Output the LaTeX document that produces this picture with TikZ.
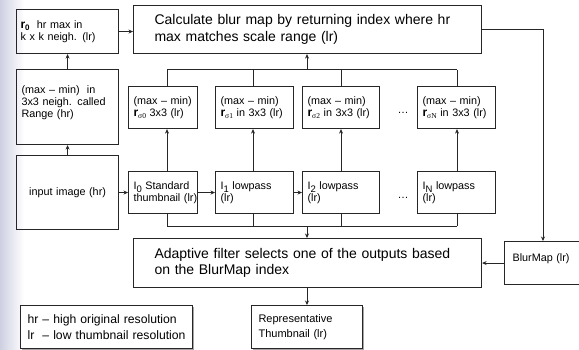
\documentclass[tikz,border=0pt]{standalone}
\usepackage{fontspec}
\setmainfont{Liberation Sans}
\newfontfamily\greekserif{Liberation Serif}
\usetikzlibrary{arrows.meta,shadows}

% bold r with a sigma subscript, and an image symbol with a subscript
\newcommand\rsig[1]{{\fontsize{12}{12}\selectfont\bfseries r}\raisebox{-2.5pt}{\fontsize{7.5}{7.5}\greekserif σ#1}}
\newcommand\imgsub[1]{I\raisebox{-3pt}{\fontsize{9.5}{9.5}\selectfont #1}}

\tikzset{
  x=1pt, y=-1pt,
  box/.style={draw=black!85, line width=1.1pt, anchor=north west, inner xsep=5pt,
    inner ysep=0pt, align=left, font=\fontsize{10.8}{12}\selectfont},
  bigbox/.style={box, inner xsep=21pt, font=\fontsize{14}{16.5}\selectfont},
  notebox/.style={box, fill=white, drop shadow={shadow xshift=1pt, shadow yshift=-1.5pt, fill=black!35, opacity=1}},
  link/.style={line width=1pt, draw=black!85},
  arr/.style={link, -{Stealth[length=4.5pt,width=4pt]}},
  dotsnode/.style={anchor=base, inner sep=0pt, font=\fontsize{11}{11}\selectfont},
}

\begin{document}
\begin{tikzpicture}
\useasboundingbox (0,0) rectangle (579,350);
% faint slide tint along the left edge
\shade[left color={rgb,255:red,206;green,208;blue,226}, right color=white] (0,0) rectangle (24,350);

% left column
\node[box, inner xsep=4pt, text width=94pt, minimum height=44pt] (r0) at (16,9)
  {{\fontsize{12}{12}\selectfont\bfseries r}\raisebox{-2pt}{\fontsize{8}{8}\selectfont\bfseries 0}\ \ hr max in\\k x k neigh. (lr)};
\node[box, text width=92pt, minimum height=75pt] (range) at (16,69)
  {(max – min)\ \ in\\3x3 neigh. called\\Range (hr)\\[-1pt]\mbox{}};
\node[box, align=center, text width=92pt, minimum height=74pt] (input) at (16,155)
  {input image (hr)};

% wide processing boxes
\node[bigbox, text width=306pt, minimum height=48pt] (calc) at (133,5)
  {\mbox{Calculate blur map by returning index where hr}\\max matches scale range (lr)};
\node[bigbox, text width=306pt, minimum height=49pt] (adapt) at (133,238)
  {\mbox{Adaptive filter selects one of the outputs based}\\on the BlurMap index};

% range maps per scale
\node[box, text width=59pt, minimum height=42pt] (rs0) at (128,86) {\mbox{(max – min)}\\\mbox{\rsig{0} 3x3 (lr)}};
\node[box, text width=68pt, minimum height=42pt] (rs1) at (215,86) {\mbox{(max – min)}\\\mbox{\rsig{1} in 3x3 (lr)}};
\node[box, text width=67pt, minimum height=42pt] (rs2) at (302,86) {\mbox{(max – min)}\\\mbox{\rsig{2} in 3x3 (lr)}};
\node[box, text width=68pt, minimum height=42pt] (rsN) at (417,86) {\mbox{(max – min)}\\\mbox{\rsig{N} in 3x3 (lr)}};

% thumbnails per scale
\node[box, text width=59pt, minimum height=42pt] (I0) at (128,171) {\mbox{\imgsub{0} Standard}\\\mbox{thumbnail (lr)}};
\node[box, text width=68pt, minimum height=42pt] (I1) at (215,171) {\imgsub{1} lowpass\\(lr)};
\node[box, text width=67pt, minimum height=42pt] (I2) at (302,171) {\imgsub{2} lowpass\\(lr)};
\node[box, text width=68pt, minimum height=42pt] (IN) at (417,171) {\imgsub{N} lowpass\\(lr)};

\node[dotsnode] (dotsR) at (403,114) {…};
\node[dotsnode] (dotsI) at (403,199) {…};

% outputs and notes
\node[box, inner xsep=8pt, text width=64pt, minimum height=43pt] (blurmap) at (504,241)
  {BlurMap (lr)\\[-1pt]\mbox{}};
\node[notebox, inner xsep=7pt, text width=97pt, minimum height=43pt,
  font=\fontsize{11}{15.5}\selectfont] (rep) at (251,305)
  {Representative\\Thumbnail (lr)};
\node[notebox, inner xsep=7pt, text width=158pt, minimum height=43pt,
  font=\fontsize{12.2}{16.5}\selectfont] (legend) at (20,305)
  {\mbox{hr – high original resolution}\\\mbox{lr\ \ – low thumbnail resolution}};

% column positions and bus lines
\coordinate (col0) at (167,0);
\coordinate (col1) at (253,0);
\coordinate (col2) at (341,0);
\coordinate (colN) at (457,0);
\coordinate (mid) at (307,0);
\coordinate (rail) at (543,0);
\coordinate (topbus) at (0,70);
\coordinate (botbus) at (0,226.5);

% left column flow
\draw[arr] (input.north) -- (range.south);
\draw[arr] (range.north) -- (r0.south);
\draw[arr] (r0.east) -- (r0.east -| calc.west);
\draw[arr] (input.east |- I0.west) -- (I0.west);
\draw[arr] (I0.east) -- (I1.west);
\draw[arr] (I1.east) -- (I2.west);

% thumbnails to range maps
\foreach \i/\r/\c in {I0/rs0/col0, I1/rs1/col1, I2/rs2/col2, IN/rsN/colN} {
  \draw[arr] (\i.north -| \c) -- (\r.south -| \c);
  \draw[link] (\r.north -| \c) -- (topbus -| \c);
  \draw[link] (\i.south -| \c) -- (botbus -| \c);
}
\draw[link] (topbus -| col0) -- (topbus -| colN);
\draw[link] (botbus -| col0) -- (botbus -| colN);
\draw[arr] (topbus -| mid) -- (calc.south -| mid);
\draw[arr] (botbus -| mid) -- (adapt.north -| mid);

% blur map path
\draw[arr] (calc.east) -| (blurmap.north -| rail);
\draw[arr] (blurmap.west) -- (blurmap.west -| adapt.east);
\draw[arr] (adapt.south -| mid) -- (rep.north -| mid);
\end{tikzpicture}
\end{document}
